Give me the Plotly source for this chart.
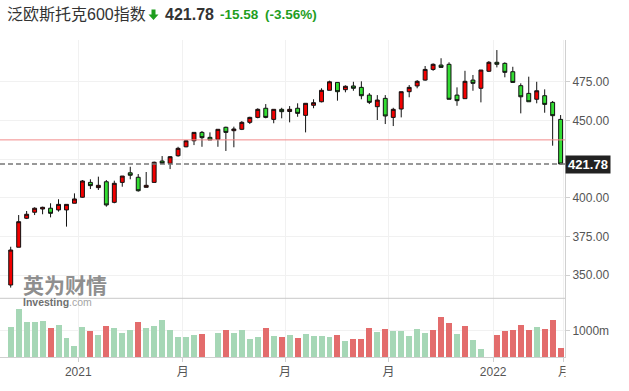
import plotly.graph_objects as go

# ---------------- data (weekly candles) ----------------
opens = [343.6, 368.0, 386.7, 390.6, 392.7, 393.2, 392.1, 392.1, 396.4, 400.3,
         409.9, 406.5, 410.3, 397.0, 409.9, 416.1, 413.2, 406.7, 409.9, 423.7,
         422.2, 427.1, 432.9, 436.8, 442.2, 439.0, 437.7, 445.5, 443.3, 444.2,
         448.7, 451.9, 457.8, 450.6, 457.1, 455.7, 457.8, 453.2, 459.7, 462.0,
         469.4, 474.5, 469.8, 472.2, 471.3, 466.3, 458.8, 464.2, 451.9, 457.3,
         468.5, 472.2, 476.0, 482.9, 485.7, 486.2, 466.3, 464.0, 476.0, 470.7,
         481.7, 487.5, 486.8, 481.4, 472.4, 467.4, 463.6, 465.9, 461.6, 450.6]
highs = [368.3, 388.8, 391.4, 393.8, 394.2, 396.4, 399.0, 395.7, 402.8, 411.4,
         411.9, 413.6, 411.4, 411.0, 414.0, 420.0, 415.3, 416.6, 423.3, 426.9,
         426.9, 432.9, 437.3, 442.2, 443.1, 442.2, 444.2, 445.9, 445.9, 449.5,
         452.3, 457.8, 460.5, 457.1, 458.1, 459.2, 461.0, 461.0, 463.6, 470.7,
         475.6, 474.5, 472.6, 474.9, 475.2, 467.6, 466.3, 466.3, 458.1, 468.5,
         472.8, 476.0, 485.1, 486.8, 490.1, 487.5, 471.3, 482.0, 479.3, 482.5,
         488.3, 495.4, 487.5, 484.6, 473.9, 478.2, 474.9, 470.0, 462.5, 453.4]
lows = [341.9, 368.0, 386.2, 388.8, 389.3, 387.3, 391.0, 381.3, 396.4, 400.0,
        405.6, 405.0, 394.2, 396.4, 407.1, 411.9, 403.9, 406.7, 409.9, 421.8,
        418.5, 426.5, 432.6, 434.0, 432.9, 437.3, 432.9, 430.2, 432.6, 443.7,
        447.6, 451.3, 451.3, 448.1, 451.3, 448.7, 452.3, 442.2, 457.8, 461.6,
        469.4, 462.7, 468.1, 469.1, 463.6, 460.5, 450.2, 447.6, 446.3, 451.9,
        464.9, 470.7, 475.6, 482.0, 484.2, 463.6, 459.4, 464.0, 469.1, 461.6,
        481.2, 484.2, 477.8, 474.5, 454.5, 462.0, 461.0, 454.9, 433.6, 421.78]
closes = [366.2, 384.5, 389.3, 393.2, 393.8, 389.9, 395.7, 395.7, 399.2, 410.8,
          407.8, 408.0, 395.3, 409.3, 414.0, 414.5, 404.5, 408.0, 422.9, 422.2,
          426.5, 431.9, 436.8, 442.2, 438.8, 437.3, 444.2, 442.2, 444.4, 448.7,
          451.9, 457.1, 451.9, 457.1, 455.6, 457.1, 454.5, 461.0, 461.4, 469.4,
          474.9, 468.5, 472.0, 470.7, 465.9, 461.6, 463.1, 452.8, 457.1, 468.5,
          471.3, 475.2, 482.9, 486.2, 484.2, 463.6, 462.7, 475.2, 473.9, 482.5,
          487.5, 486.2, 481.0, 474.5, 465.2, 462.0, 469.1, 460.3, 453.0, 421.78]
volumes = [1141, 1825, 1331, 1331, 1369, 1103, 1217, 722, 403, 1141,
           989, 837, 1190, 1103, 913, 1027, 1331, 1103, 1179, 1407,
           1027, 760, 760, 837, 875, None, 913, 1027, 913, 1027,
           684, 760, 1103, 798, 760, 837, 722, 886, 810, 810,
           760, 848, 608, 684, 684, 1103, 951, 1065, 989, 989,
           798, 1065, 913, 1027, 1532, 1293, 886, 1179, 646, 304,
           None, 848, 989, 1027, 1228, 1027, 1141, 1065, 1407, 342]
vol_dir = list("gggggrgggg" "rgrgggrggg" "ggggr-grgg" "ggrgrgrggg"
               "grgrrrgrgg" "gggrrrgrgg" "-rrrrrgrrr")

last_price = 421.78
prev_close = 437.36
change = -15.58
change_pct = -3.56

price_ticks = [350, 375, 400, 425, 450, 475]
price_ticktext = ["350.00", "375.00", "400.00", "", "450.00", "475.00"]
x_tickpos = [8.48, 21.58, 34.42, 47.39, 60.54, 69.42]
x_ticktext = ["2021", "月", "月", "月", "2022", "月"]
vol_ticks = [1000]
vol_ticktext = ["1000m"]

# ---------------- geometry ----------------
W, H = 629, 391
L, R, T, B = 0, 64, 40, 34
PW, PH = W - L - R, H - T - B


def pxx(px):
    return (px - L) / PW


def pxy(py):
    return (H - B - py) / PH


split = pxy(298.3)
idx = list(range(len(opens)))

GREEN_TXT = "#1f9e1f"
FONT = "Liberation Sans, Arial, Noto Sans CJK SC, sans-serif"

fig = go.Figure()
fig.add_trace(go.Candlestick(
    x=idx, open=opens, high=highs, low=lows, close=closes,
    increasing=dict(line=dict(color="#111111", width=1), fillcolor="#f20000"),
    decreasing=dict(line=dict(color="#111111", width=1), fillcolor="#33dd33"),
    whiskerwidth=0, xaxis="x", yaxis="y", showlegend=False, hoverinfo="skip",
))
vol_colors = ["#a6d7b6" if d == "g" else "#e36c6c" for d in vol_dir]
fig.add_trace(go.Bar(
    x=idx, y=volumes, marker=dict(color=vol_colors, line=dict(width=0)),
    width=0.75, xaxis="x", yaxis="y2", showlegend=False, hoverinfo="skip",
))

axis_font = dict(family=FONT, size=12, color="#555555")
fig.update_layout(
    width=W, height=H, margin=dict(l=L, r=R, t=T, b=B, pad=0),
    paper_bgcolor="white", plot_bgcolor="white",
    font=dict(family=FONT),
    xaxis=dict(
        range=[-1.343, 69.55], anchor="y2", rangeslider=dict(visible=False),
        tickmode="array", tickvals=x_tickpos, ticktext=x_ticktext,
        showgrid=True, gridcolor="#f1f1f1", gridwidth=1,
        showline=True, linecolor="#d0d0d0", linewidth=1,
        ticks="outside", ticklen=4, tickcolor="#d0d0d0",
        tickfont=axis_font, zeroline=False,
    ),
    yaxis=dict(
        domain=[split, 1], range=[335.0, 501.9], side="right", anchor="x",
        tickmode="array", tickvals=price_ticks, ticktext=price_ticktext,
        showgrid=True, gridcolor="#f1f1f1", zeroline=False,
        showline=True, linecolor="#d0d0d0", linewidth=1,
        ticks="outside", ticklen=4, tickcolor="#d0d0d0", tickfont=axis_font,
    ),
    yaxis2=dict(
        domain=[0, split], range=[0, 2243], side="right", anchor="x",
        tickmode="array", tickvals=vol_ticks, ticktext=vol_ticktext,
        showgrid=True, gridcolor="#f1f1f1", zeroline=False,
        showline=True, linecolor="#d0d0d0", linewidth=1,
        ticks="outside", ticklen=4, tickcolor="#d0d0d0", tickfont=axis_font,
    ),
    bargap=0,
)

shapes = [
    dict(type="line", xref="paper", yref="paper", x0=0, x1=1, y0=split, y1=split,
         line=dict(color="#c8c8c8", width=1)),
    dict(type="line", xref="paper", yref="y", x0=0, x1=1, y0=prev_close, y1=prev_close,
         line=dict(color="#f28b8b", width=1)),
    dict(type="line", xref="paper", yref="y", x0=0, x1=1, y0=last_price, y1=last_price,
         line=dict(color="#777777", width=1.5, dash="5px,3px")),
    dict(type="rect", xref="paper", yref="paper", x0=pxx(565.5), x1=pxx(629),
         y0=pxy(391), y1=pxy(359), fillcolor="white", line=dict(width=0), layer="above"),
    dict(type="path", xref="paper", yref="paper",
         path=("M {a},{b} L {c},{b} L {c},{d} L {e},{d} L {f},{g} L {h},{d} L {i},{d} Z").format(
             a=pxx(151.5), b=pxy(9.5), c=pxx(155.5), d=pxy(14.5), e=pxx(158.5),
             f=pxx(153.5), g=pxy(20), h=pxx(148.5), i=pxx(151.5)),
         fillcolor=GREEN_TXT, line=dict(width=0), layer="above"),
]
fig.update_layout(shapes=shapes)

ann = [
    dict(text="泛欧斯托克600指数", x=pxx(5), y=pxy(14.5), font=dict(size=16, color="#333333")),
    dict(text="<b>%.2f</b>" % last_price, x=pxx(163), y=pxy(14.5), font=dict(size=16, color="#333333")),
    dict(text="<b>%.2f</b>" % change, x=pxx(218), y=pxy(14.5), font=dict(size=13.5, color=GREEN_TXT)),
    dict(text="<b>(%.2f%%)</b>" % change_pct, x=pxx(263), y=pxy(14.5), font=dict(size=13.5, color=GREEN_TXT)),
    dict(text="<b>英为财情</b>", x=pxx(21), y=pxy(285), font=dict(size=21, color="#8f8f8f")),
    dict(text="<b>Investing</b><span style='color:#a5a5a5'>.com</span>", x=pxx(21), y=pxy(302),
         font=dict(size=10.5, color="#6f6f6f")),
]
for a in ann:
    a.update(xref="paper", yref="paper", xanchor="left", yanchor="middle", showarrow=False)
    a["font"]["family"] = FONT
fig.update_layout(annotations=ann)
fig.add_annotation(
    text="<b>%.2f</b>" % last_price, xref="paper", yref="y", x=1, y=last_price,
    xanchor="left", yanchor="middle", showarrow=False, bgcolor="#222222",
    font=dict(family=FONT, size=13, color="white"), width=42, height=15, borderpad=1,
)

fig.write_html(
    "out.html",
    config={"displayModeBar": False},
    post_script="document.body.style.margin='0px';document.body.style.overflow='hidden';",
)
